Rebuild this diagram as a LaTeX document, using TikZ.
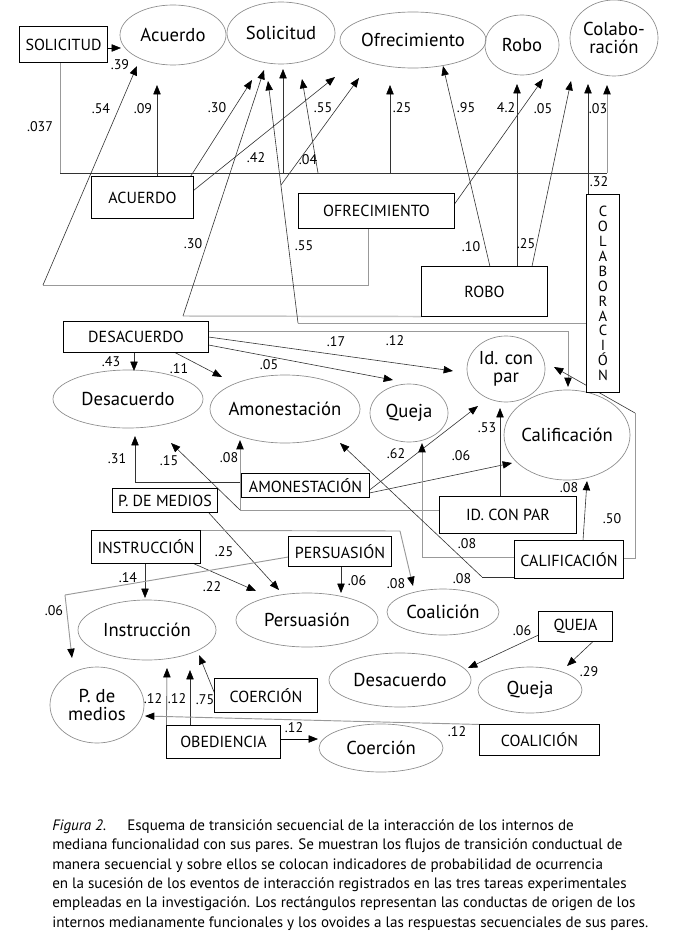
\documentclass[tikz,border=0pt]{standalone}
\usepackage{fontspec}
\setmainfont{PT Sans}
\usetikzlibrary{arrows.meta,shapes.geometric}
\begin{document}
\begin{tikzpicture}[x=0.75pt,y=-0.75pt,
  bx/.style={draw=black, line width=0.8pt, fill=white, rectangle, inner sep=0pt, font=\fontsize{12}{14}\selectfont},
  ov/.style={draw=black!45, line width=0.5pt, ellipse, inner sep=0pt},
  ot/.style={font=\fontsize{14}{13.5}\selectfont, align=center, inner sep=0pt},
  nm/.style={font=\fontsize{10.5}{12}\selectfont, inner sep=0pt},
  dk/.style={draw=black!80, line width=0.45pt},
  lg/.style={draw=black!40, line width=0.7pt},
  ar/.style={-{Triangle[length=7pt,width=5.5pt,color=black]}},
]
\fill[white] (0,0) rectangle (683,945);
\path[use as bounding box] (0,0) rectangle (683,945);

% ---------- ellipses ----------
\node[ov, minimum width=79.5pt, minimum height=45pt, label={[ot]center:Acuerdo}] (eAcu) at (173,35) {};
\node[ov, minimum width=81pt, minimum height=46.5pt, label={[ot]center:Solicitud}] (eSol) at (281,33) {};
\node[ov, minimum width=109.5pt, minimum height=42pt, label={[ot]center:Ofrecimiento}] (eOfr) at (413,40) {};
\node[ov, minimum width=55.5pt, minimum height=45pt, label={[ot]center:Robo}] (eRob) at (522,45) {};
\node[ov, minimum width=66pt, minimum height=57pt, label={[ot]center:Colabo-\\ración}] (eCol) at (614,38) {};
\node[ov, minimum width=112.5pt, minimum height=43.5pt, label={[ot]center:Desacuerdo}] (eDes) at (128,399) {};
\node[ov, minimum width=112.5pt, minimum height=51pt, label={[ot]center:Amonestación}] (eAmo) at (285,409) {};
\node[ov, minimum width=58.5pt, minimum height=43.5pt, label={[ot]center:Queja}] (eQue) at (409,413) {};
\node[ov, minimum width=58.5pt, minimum height=49.5pt, label={[ot]center:Id. con\\par}] (eId) at (506,369) {};
\node[ov, minimum width=94.5pt, minimum height=67.5pt, label={[ot]center:Calificación}] (eCal) at (567,435) {};
\node[ov, minimum width=106.5pt, minimum height=40.5pt, label={[ot]center:Persuasión}] (ePer) at (307,620) {};
\node[ov, minimum width=84pt, minimum height=34.5pt, label={[ot]center:Coalición}] (eCoa) at (443,612) {};
\node[ov, minimum width=103.5pt, minimum height=45pt, label={[ot]center:Instrucción}] (eIns) at (147,630) {};
\node[ov, minimum width=70.5pt, minimum height=57pt, label={[ot]center:P. de\\medios}] (ePdm) at (97,705) {};
\node[ov, minimum width=106.5pt, minimum height=40.5pt, label={[ot]center:Desacuerdo}] (eDes2) at (400,680) {};
\node[ov, minimum width=78pt, minimum height=34.5pt, label={[ot]center:Queja}] (eQue2) at (530,690) {};
\node[ov, minimum width=93pt, minimum height=36pt, label={[ot]center:Coerción}] (eCoe) at (381,748) {};

% ---------- boxes (positions only; drawn later on top) ----------
\path
 node[bx, minimum width=65.25pt, minimum height=26.25pt] (bSol) at (63.5,44.5) {SOLICITUD}
 node[bx, minimum width=75.75pt, minimum height=30.75pt] (bAcu) at (142.5,197.5) {ACUERDO}
 node[bx, minimum width=116.25pt, minimum height=25.5pt] (bOfr) at (376.5,211) {OFRECIMIENTO}
 node[bx, minimum width=93.75pt, minimum height=36.75pt] (bRob) at (484.5,291.5) {ROBO}
 node[bx, minimum width=24pt, minimum height=147.75pt, align=center, font=\fontsize{11}{11.2}\selectfont] (bCol) at (603,293.5) {C\\O\\L\\A\\B\\O\\R\\A\\C\\I\\Ó\\N}
 node[bx, minimum width=108pt, minimum height=22.5pt] (bDes) at (136,337) {DESACUERDO}
 node[bx, minimum width=95.25pt, minimum height=17.25pt] (bAmo) at (305.5,485.5) {AMONESTACIÓN}
 node[bx, minimum width=78pt, minimum height=17.25pt] (bPdm) at (165,500.5) {P. DE MEDIOS}
 node[bx, minimum width=102pt, minimum height=27pt] (bId) at (508,515) {ID. CON PAR}
 node[bx, minimum width=81pt, minimum height=27.75pt] (bCal) at (569,559.5) {CALIFICACIÓN}
 node[bx, minimum width=81pt, minimum height=24pt] (bIns) at (146,547) {INSTRUCCIÓN}
 node[bx, minimum width=76.5pt, minimum height=21.75pt] (bPer) at (340,551.5) {PERSUASIÓN}
 node[bx, minimum width=54.75pt, minimum height=21.75pt] (bQue) at (575.5,626.5) {QUEJA}
 node[bx, minimum width=76.5pt, minimum height=24.75pt] (bCoe) at (266,695.5) {COERCIÓN}
 node[bx, minimum width=84.75pt, minimum height=24pt] (bObe) at (223.5,742) {OBEDIENCIA}
 node[bx, minimum width=89.25pt, minimum height=22.5pt] (bCoa) at (539.5,740) {COALICIÓN};

% ---------- coordinates ----------
\coordinate (tSA) at (121,48);
\coordinate (h1) at (60,173); \coordinate (h2) at (607,173); \coordinate (tCol2) at (607,85);
\coordinate (tAcu1) at (157,85);
\coordinate (tSol1) at (283,69);
\coordinate (s04) at (318,173); \coordinate (tSol2) at (302,79);
\coordinate (tOfr1) at (390,85);
\coordinate (tSol3) at (252,80);
\coordinate (tSO) at (335,77);
\coordinate (s55) at (281,185); \coordinate (tOfr2) at (359,78);
\coordinate (p54a) at (368,285); \coordinate (p54b) at (43,285); \coordinate (tAcu2) at (137,66);
\coordinate (p30) at (183,316); \coordinate (tSol4) at (264,70);
\coordinate (p55) at (298,323); \coordinate (tSol5) at (268,81);
\coordinate (tOfr3) at (443,66);
\coordinate (tRob1) at (517,84);
\coordinate (tCol1) at (571,81);
\coordinate (tRob2) at (543,79);
\coordinate (tCol3) at (588,84);
\coordinate (tDes1) at (134,371);
\coordinate (tAmo1) at (222,377);
\coordinate (tId1) at (453,371);
\coordinate (tQue1) at (393,380);
\coordinate (p12) at (568,331); \coordinate (tCal1) at (568,387);
\coordinate (p31) at (135,482); \coordinate (tDes2) at (135,436);
\coordinate (p08) at (240,510); \coordinate (tAmo2) at (240,440); \coordinate (tDes3) at (171,443);
\coordinate (tId2) at (478,406);
\coordinate (tCal2) at (512,463);
\coordinate (tId3) at (500,408);
\coordinate (pq) at (422,557); \coordinate (tQue2) at (422,443);
\coordinate (tCal3) at (587,481);
\coordinate (p50a) at (635,558); \coordinate (p50b) at (635,413); \coordinate (tId4) at (554,367);
\coordinate (p08b) at (482,577); \coordinate (tAmo3) at (340,443);
\coordinate (tPer1) at (279,590);
\coordinate (tIns1) at (145,598);
\coordinate (tPer2) at (256,591);
\coordinate (p06a) at (65,595); \coordinate (tPdm1) at (72,658);
\coordinate (tPer3) at (341,593);
\coordinate (p08c) at (400,531); \coordinate (tCoa1) at (413,586);
\coordinate (tDes4) at (468,668);
\coordinate (tQue3) at (567,666);
\coordinate (tIns2) at (199,655);
\coordinate (tIns3) at (167,668);
\coordinate (tIns4) at (190,670);
\coordinate (tCoe1) at (318,739);
\coordinate (tPdm2) at (145,716);

% ---------- connectors ----------
\draw[dk,ar,draw=black] (bSol.east |- tSA) -- (tSA);
\draw[lg] (h1 |- bSol.south) -- (h1);
\draw[dk] (h1) -- (h2);
\draw[lg,ar] (h2) -- (tCol2);
\draw[dk,ar] (tAcu1 |- bAcu.north) -- (tAcu1);
\draw[dk,ar] (tSol1 |- h1) -- (tSol1);
\draw[dk,ar] (s04) -- (tSol2);
\draw[dk,ar] (tOfr1 |- h1) -- (tOfr1);
\draw[dk,ar] ([xshift=-2.25pt]bAcu.north east) -- (tSol3);
\draw[dk,ar] ([yshift=-10.5pt]bAcu.north east) -- (tSO);
\draw[dk,ar] (s55) -- (tOfr2);
\draw[lg] (bOfr.south -| p54a) -- (p54a) -- (p54b);
\draw[dk,ar] (p54b) -- (tAcu2);
\draw[draw=black!22, line width=1.1pt] (bRob.south west) -- (p30);
\draw[dk,ar] (p30) -- (tSol4);
\draw[lg] (bCol.west |- p55) -- (p55);
\draw[dk,ar] (p55) -- (tSol5);
\draw[dk,ar] ([xshift=4.1pt]bRob.north) -- (tOfr3);
\draw[dk,ar] (tRob1 |- bRob.north) -- (tRob1);
\draw[dk,ar] ([xshift=35.6pt]bRob.north) -- (tCol1);
\draw[dk,ar] ([yshift=5.25pt]bOfr.east) -- (tRob2);
\draw[dk,ar] (tCol3 |- bCol.north) -- (tCol3);

\draw[dk,ar] (tDes1 |- bDes.south) -- (tDes1);
\draw[dk,ar] ([xshift=29.25pt]bDes.south) -- (tAmo1);
\draw[dk,ar] (bDes.east) -- (tId1);
\draw[dk,ar] ([yshift=-6pt]bDes.east) -- (tQue1);
\draw[lg] ([yshift=4.5pt]bDes.east) -- (p12);
\draw[lg,ar] (p12) -- (tCal1);
\draw[dk] (bAmo.west |- p31) -- (p31);
\draw[dk,ar] (p31) -- (tDes2);
\draw[lg] (bId.west |- p08) -- (p08);
\draw[lg,ar] (p08) -- (tAmo2);
\draw[dk,ar] (p08) -- (tDes3);
\draw[dk,ar] ([yshift=-3.4pt]bAmo.east) -- (tId2);
\draw[dk,ar] ([yshift=-5.6pt]bAmo.east) -- (tCal2);
\draw[dk,ar] (tId3 |- bId.north) -- (tId3);
\draw[lg] (bCal.west |- pq) -- (pq);
\draw[lg,ar] (pq) -- (tQue2);
\draw[dk,ar] ([xshift=10.5pt]bCal.north) -- (tCal3);
\draw[lg] (bCal.east |- p50a) -- (p50a) -- (p50b);
\draw[dk,ar] (p50b) -- (tId4);
\draw[dk] (bCal.west |- p08b) -- (p08b);
\draw[dk,ar] (p08b) -- (tAmo3);

\draw[dk,ar] ([xshift=-6.75pt]bPdm.south east) -- (tPer1);
\draw[dk,ar] (tIns1 |- bIns.south) -- (tIns1);
\draw[dk,ar] ([xshift=-5.25pt]bIns.south east) -- (tPer2);
\draw[lg] ([yshift=-4.1pt]bPer.west) -- (p06a);
\draw[lg,ar] (p06a) -- (tPdm1);
\draw[dk,ar] (tPer3 |- bPer.south) -- (tPer3);
\draw[lg] (bIns.north east) -- (p08c);
\draw[lg,ar] (p08c) -- (tCoa1);
\draw[dk,ar] ([yshift=-6.4pt]bQue.west) -- (tDes4);
\draw[dk,ar] ([xshift=13.1pt]bQue.south) -- (tQue3);
\draw[dk,ar] ([yshift=1.9pt]bCoe.west) -- (tIns2);
\draw[dk,ar] (bObe.west) -- (tIns3);
\draw[dk,ar] (tIns4 |- bObe.north) -- (tIns4);
\draw[dk,ar,draw=black] (bObe.east |- tCoe1) -- (tCoe1);
\draw[lg,ar] (bCoa.north west) -- (tPdm2);

% ---------- boxes on top ----------
\foreach \b in {bSol,bAcu,bOfr,bRob,bCol,bDes,bAmo,bPdm,bId,bCal,bIns,bPer,bQue,bCoe,bObe,bCoa}
  \draw[black, line width=0.8pt, fill=white] (\b.north west) rectangle (\b.south east);
\node[bx, draw=none, fill=none] at (bSol) {SOLICITUD};
\node[bx, draw=none, fill=none] at (bAcu) {ACUERDO};
\node[bx, draw=none, fill=none] at (bOfr) {OFRECIMIENTO};
\node[bx, draw=none, fill=none] at (bRob) {ROBO};
\node[bx, draw=none, fill=none, align=center, font=\fontsize{11}{11.2}\selectfont] at (bCol) {C\\O\\L\\A\\B\\O\\R\\A\\C\\I\\Ó\\N};
\node[bx, draw=none, fill=none] at (bDes) {DESACUERDO};
\node[bx, draw=none, fill=none] at (bAmo) {AMONESTACIÓN};
\node[bx, draw=none, fill=none] at (bPdm) {P. DE MEDIOS};
\node[bx, draw=none, fill=none] at (bId) {ID. CON PAR};
\node[bx, draw=none, fill=none] at (bCal) {CALIFICACIÓN};
\node[bx, draw=none, fill=none] at (bIns) {INSTRUCCIÓN};
\node[bx, draw=none, fill=none] at (bPer) {PERSUASIÓN};
\node[bx, draw=none, fill=none] at (bQue) {QUEJA};
\node[bx, draw=none, fill=none] at (bCoe) {COERCIÓN};
\node[bx, draw=none, fill=none] at (bObe) {OBEDIENCIA};
\node[bx, draw=none, fill=none] at (bCoa) {COALICIÓN};

% ---------- numbers ----------
\node[nm] (n1) at (120,65) {.39};
\node[nm] (n2) at (40,127) {.037};
\node[nm] (n3) at (101,109) {.54};
\node[nm] (n4) at (143,109) {.09};
\node[nm] (n5) at (217,108) {.30};
\node[nm] (n6) at (323,108) {.55};
\node[nm] (n7) at (256,158) {.42};
\node[nm] (n8) at (308,160) {.04};
\node[nm] (n9) at (193,244) {.30};
\node[nm] (n10) at (304,246) {.55};
\node[nm] (n11) at (402,108) {.25};
\node[nm] (n12) at (466,108) {.95};
\node[nm] (n13) at (506,108) {4.2};
\node[nm] (n14) at (543,109) {.05};
\node[nm] (n15) at (598,109) {.03};
\node[nm] (n16) at (599,182) {.32};
\node[nm] (n17) at (471,247) {.10};
\node[nm] (n18) at (526,244) {.25};
\node[nm] (n19) at (336,342) {.17};
\node[nm] (n20) at (395,341) {.12};
\node[nm] (n21) at (111,362) {.43};
\node[nm] (n22) at (179,369) {.11};
\node[nm] (n23) at (269,365) {.05};
\node[nm] (n24) at (117,459) {.31};
\node[nm] (n25) at (169,461) {.15};
\node[nm] (n26) at (229,458) {.08};
\node[nm] (n27) at (396,454) {.62};
\node[nm] (n28) at (461,456) {.06};
\node[nm] (n29) at (487,428) {.53};
\node[nm] (n30) at (569,488) {.08};
\node[nm] (n31) at (612,519) {.50};
\node[nm] (n32) at (467,544) {.08};
\node[nm] (n33) at (462,579) {.08};
\node[nm] (n34) at (224,552) {.25};
\node[nm] (n35) at (128,578) {.14};
\node[nm] (n36) at (212,587) {.22};
\node[nm] (n37) at (54,611) {.06};
\node[nm] (n38) at (357,581) {.06};
\node[nm] (n39) at (396,584) {.08};
\node[nm] (n40) at (522,631) {.06};
\node[nm] (n41) at (589,672) {.29};
\node[nm] (n42) at (153,699) {.12};
\node[nm] (n43) at (177,699) {.12};
\node[nm] (n44) at (205,700) {.75};
\node[nm] (n45) at (294,728) {.12};
\node[nm] (n46) at (457,732) {.12};

% ---------- caption ----------
\node[anchor=north west, align=left, inner sep=0pt, font=\fontsize{11.3}{14.6}\selectfont] (cap) at (52,819)
{\textit{Figura 2.}\hspace{1.4em}Esquema de transición secuencial de la interacción de los internos de\\
mediana funcionalidad con sus pares. Se muestran los flujos de transición conductual de\\
manera secuencial y sobre ellos se colocan indicadores de probabilidad de ocurrencia\\
en la sucesión de los eventos de interacción registrados en las tres tareas experimentales\\
empleadas en la investigación. Los rectángulos representan las conductas de origen de los\\
internos medianamente funcionales y los ovoides a las respuestas secuenciales de sus pares.};
\end{tikzpicture}
\end{document}
